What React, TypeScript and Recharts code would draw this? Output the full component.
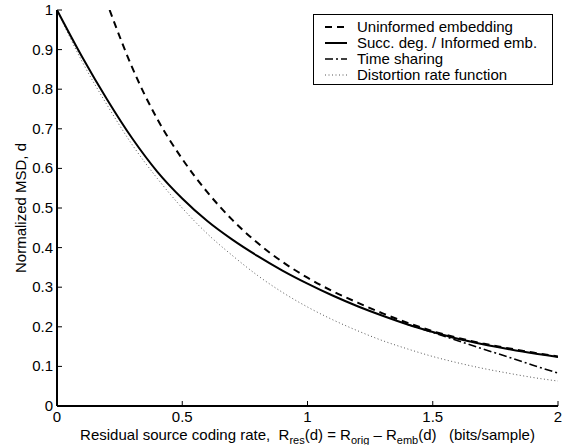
import React from 'react';
import { LineChart, Line, XAxis, YAxis, Legend } from 'recharts';

// Residual rate grid (bits/sample)
const rateGrid = [0, 0.1, 0.2, 0.3, 0.4, 0.5, 0.6, 0.7, 0.8, 0.9, 1.0, 1.1, 1.2, 1.3, 1.4, 1.5, 1.6, 1.7, 1.8, 1.9, 2.0];
const distortionRateValues = [1.0, 0.87, 0.76, 0.66, 0.575, 0.5, 0.435, 0.38, 0.33, 0.287, 0.25, 0.218, 0.19, 0.165, 0.144, 0.125, 0.109, 0.095, 0.083, 0.072, 0.063];
const succDegValues = [1.0, 0.882, 0.774, 0.676, 0.592, 0.524, 0.467, 0.42, 0.379, 0.342, 0.309, 0.279, 0.252, 0.228, 0.206, 0.187, 0.17, 0.156, 0.144, 0.133, 0.124];

const uninformedRates = [0.21, 0.3, 0.4, 0.5, 0.6, 0.7, 0.8, 0.9, 1.0, 1.1, 1.2, 1.3, 1.4, 1.5, 1.6, 1.7, 1.8, 1.9, 2.0];
const uninformedValues = [1.0, 0.855, 0.725, 0.624, 0.54, 0.47, 0.412, 0.364, 0.324, 0.29, 0.261, 0.234, 0.21, 0.189, 0.172, 0.158, 0.146, 0.135, 0.125];

const timeSharingRates = [1.4, 1.5, 1.6, 1.7, 1.8, 1.9, 2.0];
const timeSharingValues = [0.206, 0.186, 0.165, 0.144, 0.124, 0.103, 0.083];

const xTicks = [0, 0.5, 1, 1.5, 2];
const xTickLabels = ['0', '0.5', '1', '1.5', '2'];
const yTicks = [0, 0.1, 0.2, 0.3, 0.4, 0.5, 0.6, 0.7, 0.8, 0.9, 1];
const yTickLabels = ['0', '0.1', '0.2', '0.3', '0.4', '0.5', '0.6', '0.7', '0.8', '0.9', '1'];

const seriesNames = [
  'Uninformed embedding',
  'Succ. deg. / Informed emb.',
  'Time sharing',
  'Distortion rate function',
];

const zip = (xs: number[], ys: number[]) => xs.map((r, i) => ({ r, d: ys[i] }));

const uninformedData = zip(uninformedRates, uninformedValues);
const succDegData = zip(rateGrid, succDegValues);
const timeSharingData = zip(timeSharingRates, timeSharingValues);
const distortionData = zip(rateGrid, distortionRateValues);

const FONT = '"Liberation Sans", Arial, Helvetica, sans-serif';

const styles = [
  { stroke: '#000', strokeWidth: 2, dash: '7 5' },
  { stroke: '#000', strokeWidth: 2, dash: undefined as string | undefined },
  { stroke: '#000', strokeWidth: 1.6, dash: '8 3 2 3' },
  { stroke: '#555', strokeWidth: 1, dash: '1 2.5' },
];

const labelFor = (v: number, ticks: number[], labels: string[]) => {
  const i = ticks.findIndex((t) => Math.abs(t - v) < 1e-9);
  return i >= 0 ? labels[i] : String(v);
};

const BottomTick = (props: any) => {
  const { x, y, payload } = props;
  return (
    <g>
      <line x1={x} x2={x} y1={y} y2={y - 5} stroke="#000" strokeWidth={1} />
      <text x={x} y={y + 16} textAnchor="middle" fontFamily={FONT} fontSize={15} fill="#000">
        {labelFor(payload.value, xTicks, xTickLabels)}
      </text>
    </g>
  );
};

const TopTick = (props: any) => {
  const { x, y } = props;
  return <line x1={x} x2={x} y1={y} y2={y + 5} stroke="#000" strokeWidth={1} />;
};

const LeftTick = (props: any) => {
  const { x, y, payload } = props;
  return (
    <g>
      <line x1={x} x2={x + 5} y1={y} y2={y} stroke="#000" strokeWidth={1} />
      <text x={x - 4} y={y + 5} textAnchor="end" fontFamily={FONT} fontSize={15} fill="#000">
        {labelFor(payload.value, yTicks, yTickLabels)}
      </text>
    </g>
  );
};

const RightTick = (props: any) => {
  const { x, y } = props;
  return <line x1={x} x2={x - 5} y1={y} y2={y} stroke="#000" strokeWidth={1} />;
};

const XLabel = (props: any) => {
  const vb = props.viewBox || { x: 57, width: 501, y: 406 };
  const cx = vb.x + vb.width / 2;
  return (
    <text
      x={cx}
      y={vb.y + 34}
      textAnchor="middle"
      fontFamily={FONT}
      fontSize={15}
      fill="#000"
      style={{ whiteSpace: 'pre' }}
    >
      <tspan>{'Residual source coding rate,  R'}</tspan>
      <tspan fontSize={11} dy={4}>res</tspan>
      <tspan dy={-4}>{'(d) = R'}</tspan>
      <tspan fontSize={11} dy={4}>orig</tspan>
      <tspan dy={-4}>{' \u2013 R'}</tspan>
      <tspan fontSize={11} dy={4}>emb</tspan>
      <tspan dy={-4}>{'(d)   (bits/sample)'}</tspan>
    </text>
  );
};

const YLabel = (props: any) => {
  const vb = props.viewBox || { y: 10, height: 396 };
  const cy = vb.y + vb.height / 2;
  return (
    <text
      x={20}
      y={cy}
      transform={`rotate(-90, 20, ${cy})`}
      textAnchor="middle"
      dominantBaseline="central"
      fontFamily={FONT}
      fontSize={15}
      fill="#000"
    >
      Normalized MSD, d
    </text>
  );
};

const LegendBox = () => (
  <div
    style={{
      border: '1px solid #000',
      background: '#fff',
      width: 240,
      height: 71,
      boxSizing: 'border-box',
      padding: '4px 0 0 11px',
      fontFamily: FONT,
      fontSize: 15,
      lineHeight: '16px',
      color: '#000',
    }}
  >
    {seriesNames.map((name, i) => (
      <div key={name} style={{ display: 'flex', alignItems: 'center', height: 16, whiteSpace: 'nowrap' }}>
        <svg width={22} height={10} style={{ display: 'block' }}>
          <line
            x1={0}
            x2={22}
            y1={5}
            y2={5}
            stroke={styles[i].stroke}
            strokeWidth={styles[i].strokeWidth}
            strokeDasharray={styles[i].dash}
          />
        </svg>
        <span style={{ marginLeft: 10 }}>{name}</span>
      </div>
    ))}
  </div>
);

export default function App() {
  return (
    <div style={{ position: 'absolute', left: 0, top: 0, background: '#fff' }}>
      <LineChart width={562} height={445} margin={{ top: 10, right: 4, bottom: 0, left: 0 }}>
        <XAxis
          xAxisId={0}
          dataKey="r"
          type="number"
          domain={[0, 2]}
          ticks={xTicks}
          interval={0}
          allowDataOverflow
          height={39}
          tickSize={0}
          tickMargin={0}
          tickLine={false}
          axisLine={{ stroke: '#000', strokeWidth: 2 }}
          tick={BottomTick}
          label={<XLabel />}
        />
        <XAxis
          xAxisId="top"
          orientation="top"
          dataKey="r"
          type="number"
          domain={[0, 2]}
          ticks={xTicks}
          interval={0}
          allowDataOverflow
          height={0}
          tickSize={0}
          tickMargin={0}
          tickLine={false}
          axisLine={{ stroke: '#000', strokeWidth: 2 }}
          tick={TopTick}
        />
        <YAxis
          yAxisId={0}
          type="number"
          domain={[0, 1]}
          ticks={yTicks}
          interval={0}
          allowDataOverflow
          width={57}
          tickSize={0}
          tickMargin={0}
          tickLine={false}
          axisLine={{ stroke: '#000', strokeWidth: 2 }}
          tick={LeftTick}
          label={<YLabel />}
        />
        <YAxis
          yAxisId="right"
          orientation="right"
          type="number"
          domain={[0, 1]}
          ticks={yTicks}
          interval={0}
          allowDataOverflow
          width={0}
          tickSize={0}
          tickMargin={0}
          tickLine={false}
          axisLine={{ stroke: '#000', strokeWidth: 2 }}
          tick={RightTick}
        />
        <Line
          data={distortionData}
          dataKey="d"
          name={seriesNames[3]}
          type="monotone"
          stroke={styles[3].stroke}
          strokeWidth={styles[3].strokeWidth}
          strokeDasharray={styles[3].dash}
          dot={false}
          activeDot={false}
          isAnimationActive={false}
        />
        <Line
          data={timeSharingData}
          dataKey="d"
          name={seriesNames[2]}
          type="monotone"
          stroke={styles[2].stroke}
          strokeWidth={styles[2].strokeWidth}
          strokeDasharray={styles[2].dash}
          dot={false}
          activeDot={false}
          isAnimationActive={false}
        />
        <Line
          data={succDegData}
          dataKey="d"
          name={seriesNames[1]}
          type="monotone"
          stroke={styles[1].stroke}
          strokeWidth={styles[1].strokeWidth}
          dot={false}
          activeDot={false}
          isAnimationActive={false}
        />
        <Line
          data={uninformedData}
          dataKey="d"
          name={seriesNames[0]}
          type="monotone"
          stroke={styles[0].stroke}
          strokeWidth={styles[0].strokeWidth}
          strokeDasharray={styles[0].dash}
          dot={false}
          activeDot={false}
          isAnimationActive={false}
        />
        <Legend
          layout="vertical"
          align="center"
          verticalAlign="middle"
          wrapperStyle={{ position: 'absolute', left: 313, top: 14, width: 240, height: 71 }}
          content={() => <LegendBox />}
        />
      </LineChart>
    </div>
  );
}
